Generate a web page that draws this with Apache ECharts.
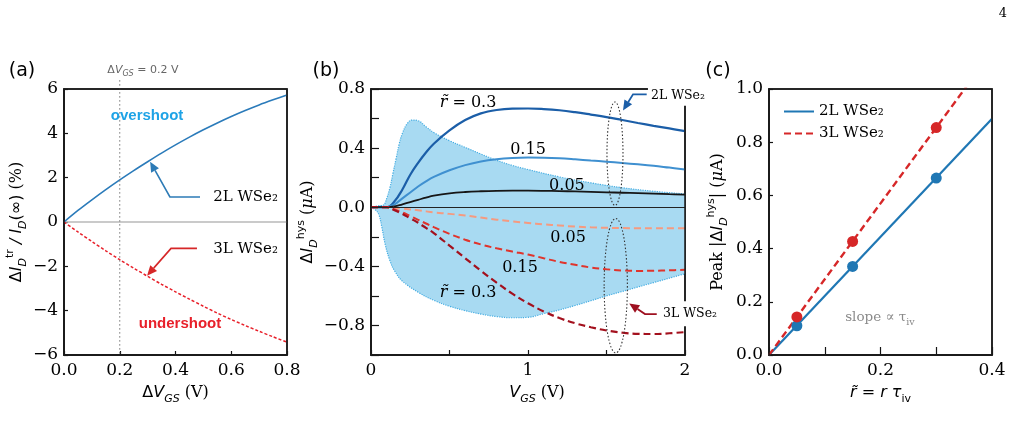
<!DOCTYPE html>
<html>
<head>
<meta charset="UTF-8">
<title>WSe2 transient and hysteresis</title>
<script src="https://cdn.jsdelivr.net/npm/echarts@6/dist/echarts.min.js"></script>
<style>
html, body { margin: 0; padding: 0; background: #fff; }
#chart { width: 1015px; height: 443px; }
</style>
</head>
<body>
<div id="chart"></div>
<script>
// ---- (a) relative transient current vs gate step ----
var aStep    = [0, 0.05, 0.1, 0.15, 0.2, 0.25, 0.3, 0.35, 0.4, 0.45, 0.5, 0.55, 0.6, 0.65, 0.7, 0.75, 0.8];
var aOver2L  = [0, 0.52, 1.0, 1.46, 1.9, 2.32, 2.72, 3.11, 3.48, 3.83, 4.16, 4.47, 4.76, 5.03, 5.28, 5.51, 5.73];
var aUnder3L = [0, -0.45, -0.88, -1.3, -1.7, -2.08, -2.45, -2.81, -3.15, -3.48, -3.8, -4.11, -4.4, -4.67, -4.93, -5.18, -5.42];

// ---- (b) hysteresis current vs V_GS ----
var bVgs   = [0, 0.1, 0.15, 0.2, 0.25, 0.3, 0.35, 0.4, 0.5, 0.6, 0.7, 0.8, 0.9, 1.0, 1.1, 1.2, 1.3, 1.4, 1.5, 1.6, 1.7, 1.8, 1.9, 2.0];
var b2L030 = [0, 0, 0.04, 0.12, 0.22, 0.30, 0.37, 0.43, 0.52, 0.59, 0.635, 0.658, 0.667, 0.668, 0.664, 0.656, 0.643, 0.627, 0.61, 0.59, 0.57, 0.551, 0.533, 0.515];
var b2L015 = [0, 0, 0.02, 0.06, 0.10, 0.14, 0.175, 0.205, 0.25, 0.285, 0.31, 0.325, 0.333, 0.336, 0.335, 0.331, 0.324, 0.316, 0.308, 0.299, 0.29, 0.28, 0.268, 0.256];
var b2L005 = [0, 0, 0.005, 0.02, 0.035, 0.05, 0.065, 0.078, 0.094, 0.103, 0.108, 0.111, 0.112, 0.112, 0.111, 0.109, 0.107, 0.104, 0.101, 0.098, 0.095, 0.092, 0.088, 0.085];
var b3L005 = [0, 0, -0.005, -0.01, -0.015, -0.02, -0.028, -0.035, -0.045, -0.056, -0.07, -0.084, -0.096, -0.106, -0.116, -0.124, -0.131, -0.136, -0.139, -0.141, -0.142, -0.142, -0.142, -0.142];
var b3L015 = [0, 0, -0.015, -0.035, -0.06, -0.085, -0.11, -0.135, -0.18, -0.22, -0.252, -0.278, -0.30, -0.32, -0.345, -0.37, -0.39, -0.408, -0.42, -0.428, -0.431, -0.43, -0.427, -0.423];
var b3L030 = [0, 0, -0.02, -0.045, -0.075, -0.105, -0.14, -0.175, -0.26, -0.345, -0.43, -0.51, -0.585, -0.65, -0.705, -0.75, -0.785, -0.812, -0.834, -0.849, -0.857, -0.858, -0.853, -0.845];
// shaded envelope
var bEnvUpV = [0, 0.05, 0.08, 0.1, 0.12, 0.14, 0.16, 0.18, 0.2, 0.23, 0.26, 0.3, 0.35, 0.4, 0.5, 0.6, 0.7, 0.8, 0.9, 1.0, 1.2, 1.4, 1.6, 1.8, 2.0];
var bEnvUp  = [0, 0.01, 0.015, 0.06, 0.13, 0.23, 0.33, 0.43, 0.5, 0.565, 0.59, 0.585, 0.545, 0.505, 0.45, 0.405, 0.36, 0.318, 0.283, 0.255, 0.205, 0.165, 0.132, 0.108, 0.09];
var bEnvLoV = [0, 0.03, 0.05, 0.07, 0.09, 0.12, 0.15, 0.2, 0.3, 0.4, 0.5, 0.6, 0.7, 0.8, 0.9, 1.0, 1.1, 1.2, 1.3, 1.4, 1.5, 1.6, 1.7, 1.8, 1.9, 2.0];
var bEnvLo  = [0, -0.02, -0.05, -0.14, -0.25, -0.36, -0.43, -0.5, -0.575, -0.63, -0.67, -0.70, -0.723, -0.74, -0.748, -0.745, -0.72, -0.695, -0.665, -0.633, -0.60, -0.57, -0.54, -0.51, -0.48, -0.45];

// ---- (c) peak hysteresis vs r~ ----
var cR      = [0.05, 0.15, 0.3];
var cPeak2L = [0.11, 0.333, 0.665];
var cPeak3L = [0.143, 0.427, 0.855];
var cFitR   = [0, 0.4];
var cFit2L  = [0, 0.888];
var cFit3L  = [0, 1.14];

function pairs(xs, ys) { return xs.map(function (x, i) { return [x, ys[i]]; }); }

function lab(step, dec) {
    return function (v) {
        var k = Math.round(v / step);
        if (Math.abs(v - k * step) > 1e-6) return '';
        var s = Math.abs(v).toFixed(dec);
        return (v < -1e-9 ? '\u2212' : '') + s;
    };
}

var SERIF = 'DejaVu Serif', SANS = 'DejaVu Sans';
var INK = '#141414';
function tok(o) { if (o.color) o.fill = o.color; return o; }
var R = {
    n:   tok({ fontFamily: SERIF, fontSize: 16, lineHeight: 24, color: '#000' }),
    up:  tok({ fontFamily: SANS, fontSize: 16, lineHeight: 24, color: '#000' }),
    s:   tok({ fontFamily: SANS, fontStyle: 'italic', fontSize: 16, lineHeight: 24, color: '#000' }),
    si:  tok({ fontFamily: SERIF, fontStyle: 'italic', fontSize: 16, lineHeight: 24, color: '#000' }),
    sub: tok({ fontFamily: SANS, fontStyle: 'italic', fontSize: 11, verticalAlign: 'bottom', color: '#000' }),
    subu:tok({ fontFamily: SANS, fontSize: 11, verticalAlign: 'bottom', color: '#000' }),
    sup: tok({ fontFamily: SANS, fontSize: 11, verticalAlign: 'top', color: '#000' })
};

function tickOpt(len) {
    return { show: len > 0, inside: true, length: len, lineStyle: { color: INK, width: 1.2, opacity: 1 } };
}
function xAxis(g, min, max, interval, fmt, tick, name, gap, pad) {
    return {
        type: 'value', gridIndex: g, min: min, max: max, interval: interval,
        axisLine: { show: true, onZero: false, lineStyle: { color: INK, width: 1.5, opacity: 1 } },
        axisTick: tickOpt(tick),
        axisLabel: { formatter: fmt, margin: 7, fontFamily: SERIF, fontSize: 17, color: '#000' },
        splitLine: { show: false },
        name: name, nameLocation: 'middle', nameGap: gap,
        nameTextStyle: { rich: R, padding: pad || 0 }
    };
}
function yAxis(g, min, max, interval, fmt, tick, name, gap) {
    return {
        type: 'value', gridIndex: g, min: min, max: max, interval: interval,
        axisLine: { show: true, onZero: false, lineStyle: { color: INK, width: 1.5, opacity: 1 } },
        axisTick: tickOpt(tick),
        axisLabel: { formatter: fmt, margin: 6, fontFamily: SERIF, fontSize: 17, color: '#000' },
        splitLine: { show: false },
        name: name, nameLocation: 'middle', nameGap: gap, nameRotate: 90,
        nameTextStyle: { rich: R }
    };
}

var chart = echarts.init(document.getElementById('chart'), null, { renderer: 'canvas' });

var gridBox = { show: true, borderColor: INK, borderWidth: 1.5, backgroundColor: 'rgba(255,255,255,0)' };
var option = {
    animation: false,
    backgroundColor: '#fff',
    textStyle: { fontFamily: SERIF },
    grid: [
        Object.assign({ left: 64, top: 89, width: 223, height: 266 }, gridBox),
        Object.assign({ left: 371, top: 89, width: 314, height: 266 }, gridBox),
        Object.assign({ left: 769, top: 89, width: 223, height: 266 }, gridBox)
    ],
    xAxis: [
        xAxis(0, 0, 0.8, 0.2, lab(0.2, 1), 4, '{up|\u0394}{s|V}{sub|GS}{n| (V)}', 26),
        xAxis(1, 0, 2, 0.5, lab(1, 0), 5, '{s|V}{sub|GS}{n| (V)}', 26, [0, 0, 0, 18]),
        xAxis(2, 0, 0.4, 0.1, lab(0.2, 1), 8, '{s|r\u0303 = r \u03c4}{subu|iv}', 26)
    ],
    yAxis: [
        yAxis(0, -6, 6, 2, lab(2, 0), 4, '{up|\u0394}{s|I}{sub|D}{sup|tr}{s| / I}{sub|D}{up|(\u221e)}{n| (%)}', 30),
        yAxis(1, -1, 0.8, 0.2, lab(0.4, 1), 8, '{up|\u0394}{s|I}{sub|D}{sup|hys}{n| (}{si|\u03bc}{n|A)}', 40),
        yAxis(2, 0, 1, 0.2, lab(0.2, 1), 4, '{n|Peak |}{up|\u0394}{s|I}{sub|D}{sup|hys}{n|| (}{si|\u03bc}{n|A)}', 39)
    ],
    legend: {
        orient: 'vertical', left: 778, top: 99, itemGap: 7, itemWidth: 30, itemHeight: 14,
        data: ['2L WSe\u2082', '3L WSe\u2082'],
        itemStyle: { opacity: 0 },
        textStyle: { fontFamily: SERIF, fontSize: 15, color: '#000' }
    },
    series: [
        // (a)
        {
            type: 'line', xAxisIndex: 0, yAxisIndex: 0, data: pairs(aStep, aOver2L),
            symbol: 'none', smooth: 0.3, lineStyle: { color: '#2b7bba', width: 1.6 }, z: 4,
            markLine: {
                silent: true, symbol: ['none', 'none'], label: { show: false },
                lineStyle: { color: '#b9b9b9', width: 1.5, type: 'solid' },
                data: [{ yAxis: 0 }], z: 1
            }
        },
        {
            type: 'line', xAxisIndex: 0, yAxisIndex: 0, data: pairs(aStep, aUnder3L),
            symbol: 'none', smooth: 0.3, lineStyle: { color: '#e8202a', width: 1.5, type: [3, 2] }, z: 4
        },
        // (b) envelope
        {
            type: 'line', xAxisIndex: 1, yAxisIndex: 1, data: pairs(bEnvUpV, bEnvUp),
            symbol: 'none', smooth: 0.4, lineStyle: { color: '#45ade2', width: 1.2, type: 'dotted' },
            areaStyle: { color: '#a8daf2', opacity: 1 }, z: 1
        },
        {
            type: 'line', xAxisIndex: 1, yAxisIndex: 1, data: pairs(bEnvLoV, bEnvLo),
            symbol: 'none', smooth: 0.4, lineStyle: { color: '#45ade2', width: 1.2, type: 'dotted' },
            areaStyle: { color: '#a8daf2', opacity: 1 }, z: 1,
            markLine: {
                silent: true, symbol: ['none', 'none'], label: { show: false },
                lineStyle: { color: '#222', width: 1, type: 'solid' },
                data: [{ yAxis: 0 }]
            }
        },
        // (b) 2L curves
        { type: 'line', xAxisIndex: 1, yAxisIndex: 1, data: pairs(bVgs, b2L030), symbol: 'none', smooth: 0.4, lineStyle: { color: '#1b5ea8', width: 2.2 }, z: 4 },
        { type: 'line', xAxisIndex: 1, yAxisIndex: 1, data: pairs(bVgs, b2L015), symbol: 'none', smooth: 0.4, lineStyle: { color: '#3f90d0', width: 2 }, z: 4 },
        { type: 'line', xAxisIndex: 1, yAxisIndex: 1, data: pairs(bVgs, b2L005), symbol: 'none', smooth: 0.4, lineStyle: { color: '#161616', width: 1.8 }, z: 4 },
        // (b) 3L curves
        { type: 'line', xAxisIndex: 1, yAxisIndex: 1, data: pairs(bVgs, b3L005), symbol: 'none', smooth: 0.4, lineStyle: { color: '#f59a80', width: 2, type: [7, 4] }, z: 4 },
        { type: 'line', xAxisIndex: 1, yAxisIndex: 1, data: pairs(bVgs, b3L015), symbol: 'none', smooth: 0.4, lineStyle: { color: '#e0342c', width: 2, type: [7, 4] }, z: 4 },
        { type: 'line', xAxisIndex: 1, yAxisIndex: 1, data: pairs(bVgs, b3L030), symbol: 'none', smooth: 0.4, lineStyle: { color: '#a3101d', width: 2.2, type: [7, 4] }, z: 4 },
        // (c)
        { name: '2L WSe\u2082', type: 'line', xAxisIndex: 2, yAxisIndex: 2, data: pairs(cFitR, cFit2L), symbol: 'none', color: '#1f77b4', lineStyle: { color: '#1f77b4', width: 2.2 }, z: 3 },
        { name: '3L WSe\u2082', type: 'line', xAxisIndex: 2, yAxisIndex: 2, data: pairs(cFitR, cFit3L), symbol: 'none', color: '#d62728', lineStyle: { color: '#d62728', width: 2.4, type: [7, 4] }, z: 3 },
        { type: 'scatter', xAxisIndex: 2, yAxisIndex: 2, data: pairs(cR, cPeak2L), symbolSize: 11, itemStyle: { color: '#1f77b4', opacity: 1 }, z: 4 },
        { type: 'scatter', xAxisIndex: 2, yAxisIndex: 2, data: pairs(cR, cPeak3L), symbolSize: 11, itemStyle: { color: '#d62728', opacity: 1 }, z: 4 }
    ]
};
chart.setOption(option);

// ---- annotations, placed through the axes ----
function P(g, xy) { return chart.convertToPixel({ gridIndex: g }, xy); }

function txt(g, xy, text, style) {
    var p = P(g, xy);
    return {
        type: 'text', x: p[0], y: p[1], z: 60,
        style: Object.assign({ text: text, align: 'center', verticalAlign: 'middle', fill: '#000' }, style)
    };
}

function arrow(g, pts, color, w) {
    var px = pts.map(function (d) { return P(g, d); });
    var n = px.length, tip = px[n - 1], prev = px[n - 2];
    var dx = tip[0] - prev[0], dy = tip[1] - prev[1], L = Math.sqrt(dx * dx + dy * dy);
    dx /= L; dy /= L;
    var hl = 10, hw = 4.5;
    var base = [tip[0] - dx * hl, tip[1] - dy * hl];
    var line = px.slice(0, n - 1).concat([base]);
    return [
        { type: 'polyline', z: 60, shape: { points: line }, style: { stroke: color, lineWidth: w, fill: null } },
        { type: 'polygon', z: 60, shape: { points: [tip, [base[0] - dy * hw, base[1] + dx * hw], [base[0] + dy * hw, base[1] - dx * hw]] }, style: { fill: color } }
    ];
}

function ellipse(g, c, rx, ry) {
    var p = P(g, c), q = P(g, [c[0] + rx, c[1] + ry]);
    return { type: 'ellipse', z: 55, shape: { cx: p[0], cy: p[1], rx: q[0] - p[0], ry: p[1] - q[1] }, style: { fill: null, stroke: '#333', lineWidth: 1.1, lineDash: [1.5, 2] } };
}

// frame drawn over the fills so the plot box stays crisp
function frame(g, x0, x1, y0, y1) {
    var a = P(g, [x0, y1]), b = P(g, [x1, y0]);
    return { type: 'polygon', z: 50, shape: { points: [[a[0], a[1]], [b[0], a[1]], [b[0], b[1]], [a[0], b[1]]] }, style: { fill: 'rgba(0,0,0,0)', stroke: '#1a1a1a', lineWidth: 1.5 } };
}

var g = [];
g.push(frame(0, 0, 0.8, -6, 6), frame(1, 0, 2, -1, 0.8), frame(2, 0, 0.4, 0, 1));

// (a)
var vTop = P(0, [0.2, 6.4]), vBot = P(0, [0.2, -6]);
g.push({ type: 'line', z: 5, shape: { x1: vTop[0], y1: vTop[1], x2: vBot[0], y2: vBot[1] }, style: { stroke: '#777', lineWidth: 1, lineDash: [1.5, 2.5] } });
g.push(txt(0, [0.283, 6.85], '{g|\u0394}{gi|V}{gs|GS}{g| = 0.2 V}', {
    rich: {
        g: { fontFamily: SANS, fontSize: 11, fill: '#666', lineHeight: 16 },
        gi: { fontFamily: SANS, fontStyle: 'italic', fontSize: 11, fill: '#666', lineHeight: 16 },
        gs: { fontFamily: SANS, fontStyle: 'italic', fontSize: 8, fill: '#666', verticalAlign: 'bottom' }
    }
}));
g.push(txt(0, [0.298, 4.77], 'overshoot', { fontFamily: 'Liberation Sans', fontWeight: 'bold', fontSize: 15, fill: '#1ea3e6' }));
g.push(txt(0, [0.416, -4.6], 'undershoot', { fontFamily: 'Liberation Sans', fontWeight: 'bold', fontSize: 15, fill: '#e8202a' }));
g.push(txt(0, [0.535, 1.13], '2L WSe\u2082', { fontFamily: SERIF, fontSize: 15, align: 'left' }));
g.push(txt(0, [0.535, -1.23], '3L WSe\u2082', { fontFamily: SERIF, fontSize: 15, align: 'left' }));
g = g.concat(arrow(0, [[0.488, 1.13], [0.38, 1.13], [0.309, 2.72]], '#2d7bb6', 1.6));
g = g.concat(arrow(0, [[0.477, -1.19], [0.384, -1.19], [0.298, -2.42]], '#d62728', 1.6));

// (b)
var rt = { t: { fontFamily: SERIF, fontStyle: 'italic', fontSize: 16, fill: '#000' }, v: { fontFamily: SERIF, fontSize: 16, fill: '#000' } };
g.push(txt(1, [0.618, 0.703], '{t|r\u0303}{v| = 0.3}', { rich: rt }));
g.push(txt(1, [1.0, 0.39], '0.15', { fontFamily: SERIF, fontSize: 16 }));
g.push(txt(1, [1.248, 0.147], '0.05', { fontFamily: SERIF, fontSize: 16 }));
g.push(txt(1, [1.255, -0.205], '0.05', { fontFamily: SERIF, fontSize: 16 }));
g.push(txt(1, [0.949, -0.409], '0.15', { fontFamily: SERIF, fontSize: 16 }));
g.push(txt(1, [0.618, -0.578], '{t|r\u0303}{v| = 0.3}', { rich: rt }));
g.push(ellipse(1, [1.554, 0.362], 0.051, 0.35));
g.push(ellipse(1, [1.559, -0.531], 0.074, 0.455));
g.push(txt(1, [1.764, 0.757], '2L WSe\u2082', { fontFamily: SERIF, fontSize: 12.5, align: 'left', backgroundColor: '#fff', padding: [4, 3] }));
g.push(txt(1, [1.841, -0.721], '3L WSe\u2082', { fontFamily: SERIF, fontSize: 12.5, align: 'left', backgroundColor: '#fff', padding: [6, 3] }));
g = g.concat(arrow(1, [[1.756, 0.764], [1.669, 0.764], [1.605, 0.655]], '#1b5ea8', 1.8));
g = g.concat(arrow(1, [[1.82, -0.723], [1.745, -0.723], [1.645, -0.651]], '#9e1020', 1.8));

// (c)
g.push(txt(2, [0.199, 0.14], '{a|slope \u221d \u03c4}{b|iv}', {
    rich: {
        a: { fontFamily: SERIF, fontSize: 13.5, fill: '#8a8a8a', lineHeight: 20 },
        b: { fontFamily: SERIF, fontSize: 9.5, fill: '#8a8a8a', verticalAlign: 'bottom' }
    }
}));

// panel letters
g.push({ type: 'text', x: 22, y: 71, z: 60, style: { text: '(a)', fontFamily: SANS, fontSize: 19, align: 'center', verticalAlign: 'middle', fill: '#000' } });
g.push({ type: 'text', x: 326, y: 71, z: 60, style: { text: '(b)', fontFamily: SANS, fontSize: 19, align: 'center', verticalAlign: 'middle', fill: '#000' } });
g.push({ type: 'text', x: 718, y: 71, z: 60, style: { text: '(c)', fontFamily: SANS, fontSize: 19, align: 'center', verticalAlign: 'middle', fill: '#000' } });
// page number
g.push({ type: 'text', x: 1003, y: 14, z: 60, style: { text: '4', fontFamily: SERIF, fontSize: 13, align: 'center', verticalAlign: 'middle', fill: '#000' } });

chart.setOption({ graphic: g });
</script>
</body>
</html>
